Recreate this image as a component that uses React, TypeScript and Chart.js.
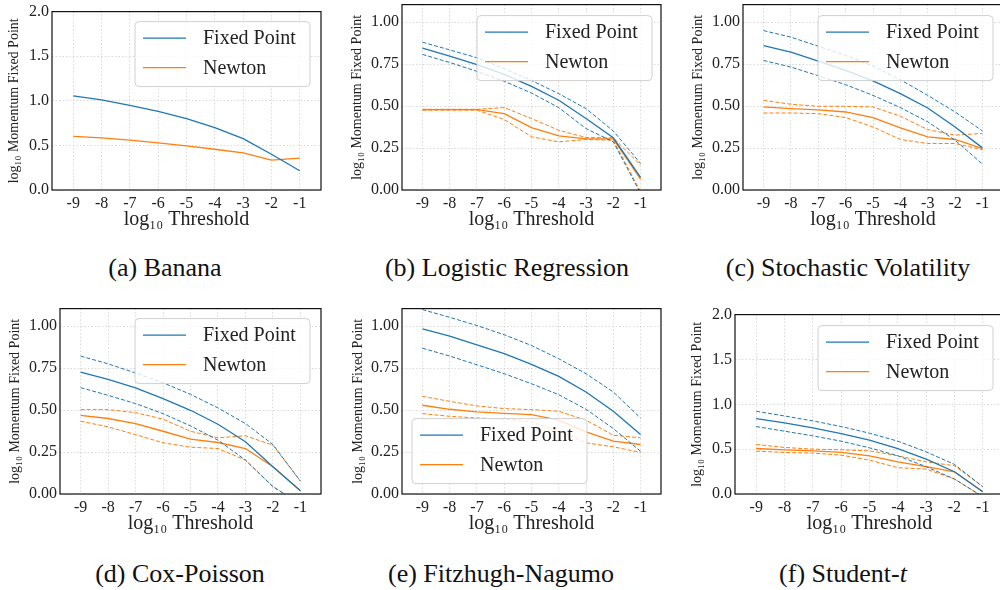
import React, { useEffect, useRef } from "react";
import { Chart, registerables } from "chart.js";

Chart.register(...registerables);

// ---------- shared axis data ----------
const thresholds = [-9, -8, -7, -6, -5, -4, -3, -2, -1];
const yTicksHalf = [0, 0.5, 1, 1.5, 2];
const yTickLabelsHalf = ["0.0", "0.5", "1.0", "1.5", "2.0"];
const yTicksQuarter = [0, 0.25, 0.5, 0.75, 1];
const yTickLabelsQuarter = ["0.00", "0.25", "0.50", "0.75", "1.00"];
const seriesNames = ["Fixed Point", "Newton"];

// ---------- (a) Banana ----------
const bananaFixedMean = [1.056, 1.011, 0.948, 0.881, 0.8, 0.699, 0.576, 0.401, 0.216];
const bananaNewtonMean = [0.602, 0.584, 0.558, 0.528, 0.494, 0.457, 0.416, 0.335, 0.357];

// ---------- (b) Logistic Regression ----------
const logisticFixedMean = [0.846, 0.798, 0.747, 0.689, 0.618, 0.535, 0.426, 0.311, 0.075];
const logisticFixedUpper = [0.881, 0.835, 0.788, 0.723, 0.653, 0.574, 0.485, 0.352, 0.158];
const logisticFixedLower = [0.808, 0.76, 0.707, 0.648, 0.578, 0.491, 0.366, 0.287, -0.02];
const logisticNewtonMean = [0.479, 0.479, 0.479, 0.455, 0.372, 0.323, 0.305, 0.305, 0.065];
const logisticNewtonUpper = [0.481, 0.481, 0.481, 0.491, 0.426, 0.356, 0.313, 0.311, 0.149];
const logisticNewtonLower = [0.476, 0.476, 0.476, 0.42, 0.317, 0.287, 0.301, 0.297, -0.01];

// ---------- (c) Stochastic Volatility ----------
const stochFixedMean = [0.861, 0.822, 0.768, 0.713, 0.65, 0.574, 0.489, 0.376, 0.251];
const stochFixedUpper = [0.95, 0.911, 0.857, 0.802, 0.739, 0.657, 0.564, 0.465, 0.352];
const stochFixedLower = [0.772, 0.733, 0.681, 0.628, 0.564, 0.491, 0.406, 0.297, 0.154];
const stochNewtonMean = [0.495, 0.485, 0.477, 0.465, 0.432, 0.37, 0.317, 0.301, 0.246];
const stochNewtonUpper = [0.535, 0.511, 0.499, 0.499, 0.495, 0.44, 0.36, 0.327, 0.337];
const stochNewtonLower = [0.459, 0.459, 0.455, 0.432, 0.376, 0.301, 0.277, 0.277, 0.24];

// ---------- (d) Cox-Poisson ----------
const coxFixedMean = [0.727, 0.683, 0.632, 0.568, 0.499, 0.416, 0.311, 0.162, 0.02];
const coxFixedUpper = [0.822, 0.776, 0.721, 0.663, 0.594, 0.513, 0.42, 0.295, 0.077];
const coxFixedLower = [0.634, 0.588, 0.539, 0.479, 0.406, 0.321, 0.202, 0.044, -0.06];
const coxNewtonMean = [0.469, 0.45, 0.42, 0.374, 0.327, 0.307, 0.271, 0.162, 0.02];
const coxNewtonUpper = [0.503, 0.503, 0.485, 0.446, 0.374, 0.335, 0.347, 0.291, 0.077];
const coxNewtonLower = [0.434, 0.4, 0.354, 0.305, 0.279, 0.271, 0.202, 0.044, -0.06];

// ---------- (e) Fitzhugh-Nagumo ----------
const fitzFixedMean = [0.984, 0.941, 0.889, 0.836, 0.772, 0.701, 0.608, 0.493, 0.354];
const fitzFixedUpper = [1.099, 1.053, 1.004, 0.949, 0.885, 0.806, 0.717, 0.608, 0.453];
const fitzFixedLower = [0.869, 0.822, 0.77, 0.717, 0.657, 0.592, 0.505, 0.39, 0.255];
const fitzNewtonMean = [0.529, 0.505, 0.489, 0.481, 0.473, 0.44, 0.37, 0.315, 0.295];
const fitzNewtonUpper = [0.582, 0.552, 0.525, 0.509, 0.503, 0.493, 0.44, 0.35, 0.335];
const fitzNewtonLower = [0.479, 0.463, 0.453, 0.446, 0.43, 0.374, 0.305, 0.281, 0.248];

// ---------- (f) Student-t ----------
const studentFixedMean = [0.841, 0.793, 0.737, 0.674, 0.6, 0.507, 0.389, 0.248, 0.026];
const studentFixedUpper = [0.922, 0.87, 0.815, 0.752, 0.678, 0.589, 0.47, 0.33, 0.081];
const studentFixedLower = [0.752, 0.7, 0.648, 0.589, 0.515, 0.426, 0.304, 0.167, -0.03];
const studentNewtonMean = [0.507, 0.493, 0.481, 0.463, 0.426, 0.359, 0.304, 0.248, 0.026];
const studentNewtonUpper = [0.552, 0.519, 0.5, 0.493, 0.481, 0.426, 0.359, 0.315, 0.081];
const studentNewtonLower = [0.478, 0.463, 0.456, 0.433, 0.378, 0.293, 0.278, 0.167, -0.03];

// ---------- styles ----------
const BLUE = "#1f77b4";
const ORANGE = "#ff7f0e";
const SERIF = "'Liberation Serif', 'DejaVu Serif', serif";
const TEXT = "#222222";
const GRID = "#cfcfcf";
const PAD_L = 60;
const PAD_T = 12;
const PAD_R = 12;
const PAD_B = 45;

type Band = { mean: number[]; upper?: number[]; lower?: number[] };
type Panel = {
  key: string;
  caption: React.ReactNode;
  capX: number;
  capY: number;
  plot: { l: number; t: number; r: number; b: number };
  yMax: number;
  yTicks: number[];
  yTickLabels: string[];
  yTitleGap: number;
  legend: { dx: number; dy: number };
  fixed: Band;
  newton: Band;
};

const panels: Panel[] = [
  {
    key: "a",
    caption: <>(a) Banana</>,
    capX: 165,
    capY: 268,
    plot: { l: 52, t: 11, r: 321, b: 190 },
    yMax: 2,
    yTicks: yTicksHalf,
    yTickLabels: yTickLabelsHalf,
    yTitleGap: 37.5,
    legend: { dx: 83, dy: 10 },
    fixed: { mean: bananaFixedMean },
    newton: { mean: bananaNewtonMean },
  },
  {
    key: "b",
    caption: <>(b) Logistic Regression</>,
    capX: 507,
    capY: 268,
    plot: { l: 402, t: 4, r: 661, b: 190 },
    yMax: 1.105,
    yTicks: yTicksQuarter,
    yTickLabels: yTickLabelsQuarter,
    yTitleGap: 45,
    legend: { dx: 75, dy: 11 },
    fixed: { mean: logisticFixedMean, upper: logisticFixedUpper, lower: logisticFixedLower },
    newton: { mean: logisticNewtonMean, upper: logisticNewtonUpper, lower: logisticNewtonLower },
  },
  {
    key: "c",
    caption: <>(c) Stochastic Volatility</>,
    capX: 848,
    capY: 268,
    plot: { l: 743, t: 4, r: 1003, b: 190 },
    yMax: 1.105,
    yTicks: yTicksQuarter,
    yTickLabels: yTickLabelsQuarter,
    yTitleGap: 45,
    legend: { dx: 75, dy: 11 },
    fixed: { mean: stochFixedMean, upper: stochFixedUpper, lower: stochFixedLower },
    newton: { mean: stochNewtonMean, upper: stochNewtonUpper, lower: stochNewtonLower },
  },
  {
    key: "d",
    caption: <>(d) Cox-Poisson</>,
    capX: 180,
    capY: 574,
    plot: { l: 60, t: 308, r: 321, b: 494 },
    yMax: 1.105,
    yTicks: yTicksQuarter,
    yTickLabels: yTickLabelsQuarter,
    yTitleGap: 45,
    legend: { dx: 75, dy: 10 },
    fixed: { mean: coxFixedMean, upper: coxFixedUpper, lower: coxFixedLower },
    newton: { mean: coxNewtonMean, upper: coxNewtonUpper, lower: coxNewtonLower },
  },
  {
    key: "e",
    caption: <>(e) Fitzhugh-Nagumo</>,
    capX: 501,
    capY: 574,
    plot: { l: 402, t: 308, r: 661, b: 494 },
    yMax: 1.105,
    yTicks: yTicksQuarter,
    yTickLabels: yTickLabelsQuarter,
    yTitleGap: 44,
    legend: { dx: 10, dy: 110 },
    fixed: { mean: fitzFixedMean, upper: fitzFixedUpper, lower: fitzFixedLower },
    newton: { mean: fitzNewtonMean, upper: fitzNewtonUpper, lower: fitzNewtonLower },
  },
  {
    key: "f",
    caption: (
      <>
        (f) Student-<i>t</i>
      </>
    ),
    capX: 843,
    capY: 574,
    plot: { l: 735, t: 314, r: 1004, b: 494 },
    yMax: 2,
    yTicks: yTicksHalf,
    yTickLabels: yTickLabelsHalf,
    yTitleGap: 37.5,
    legend: { dx: 83, dy: 11 },
    fixed: { mean: studentFixedMean, upper: studentFixedUpper, lower: studentFixedLower },
    newton: { mean: studentNewtonMean, upper: studentNewtonUpper, lower: studentNewtonLower },
  },
];

const frameLegendPlugin = {
  id: "frameLegend",
  afterDatasetsDraw(chart: any, _args: any, opts: any) {
    const { ctx, chartArea: a } = chart;
    ctx.save();
    ctx.strokeStyle = "#111111";
    ctx.lineWidth = 1.2;
    ctx.setLineDash([]);
    ctx.strokeRect(a.left, a.top, a.right - a.left, a.bottom - a.top);

    const L = a.left + opts.dx;
    const T = a.top + opts.dy;
    const W = 175;
    const H = 65;
    const r = 4;
    ctx.beginPath();
    ctx.moveTo(L + r, T);
    ctx.lineTo(L + W - r, T);
    ctx.quadraticCurveTo(L + W, T, L + W, T + r);
    ctx.lineTo(L + W, T + H - r);
    ctx.quadraticCurveTo(L + W, T + H, L + W - r, T + H);
    ctx.lineTo(L + r, T + H);
    ctx.quadraticCurveTo(L, T + H, L, T + H - r);
    ctx.lineTo(L, T + r);
    ctx.quadraticCurveTo(L, T, L + r, T);
    ctx.closePath();
    ctx.fillStyle = "rgba(255,255,255,0.8)";
    ctx.fill();
    ctx.strokeStyle = "#d0d0d0";
    ctx.lineWidth = 1;
    ctx.stroke();

    const colors = [BLUE, ORANGE];
    seriesNames.forEach((name, i) => {
      const y = T + 16.5 + i * 29.5;
      ctx.beginPath();
      ctx.strokeStyle = colors[i];
      ctx.lineWidth = 1.3;
      ctx.moveTo(L + 8, y);
      ctx.lineTo(L + 51, y);
      ctx.stroke();
      ctx.fillStyle = TEXT;
      ctx.font = `20px ${SERIF}`;
      ctx.textAlign = "left";
      ctx.textBaseline = "middle";
      ctx.fillText(name, L + 68, y + 1);
    });
    ctx.restore();
  },
};

function bandDatasets(name: string, band: Band, color: string) {
  const toPts = (arr: number[]) => thresholds.map((x, i) => ({ x, y: arr[i] }));
  const out: any[] = [
    {
      label: name,
      data: toPts(band.mean),
      borderColor: color,
      borderWidth: 1.3,
      pointRadius: 0,
      tension: 0,
      fill: false,
    },
  ];
  [band.upper, band.lower].forEach((arr, k) => {
    if (!arr) return;
    out.push({
      label: `${name} ${k === 0 ? "upper" : "lower"}`,
      data: toPts(arr),
      borderColor: color,
      borderWidth: 1,
      borderDash: [4, 2],
      pointRadius: 0,
      tension: 0,
      fill: false,
    });
  });
  return out;
}

function PanelChart({ p }: { p: Panel }) {
  const ref = useRef<HTMLCanvasElement | null>(null);
  const w = p.plot.r - p.plot.l + PAD_L + PAD_R;
  const h = p.plot.b - p.plot.t + PAD_T + PAD_B;

  useEffect(() => {
    if (!ref.current) return;
    const chart = new Chart(ref.current, {
      type: "line",
      data: {
        datasets: [
          ...bandDatasets(seriesNames[0], p.fixed, BLUE),
          ...bandDatasets(seriesNames[1], p.newton, ORANGE),
        ],
      },
      options: {
        responsive: false,
        animation: false,
        devicePixelRatio: 1,
        layout: { padding: { top: PAD_T, right: PAD_R, left: 0, bottom: 0 } },
        plugins: {
          legend: { display: false },
          tooltip: { enabled: false },
          frameLegend: p.legend,
        } as any,
        scales: {
          x: {
            type: "linear",
            min: -9.75,
            max: -0.25,
            afterBuildTicks: (s: any) => {
              s.ticks = thresholds.map((v) => ({ value: v }));
            },
            afterFit: (s: any) => {
              s.height = PAD_B;
            },
            ticks: {
              autoSkip: false,
              maxRotation: 0,
              padding: 4,
              color: TEXT,
              font: { family: SERIF, size: 16 },
              callback: (v: any) => String(v),
            },
            grid: { color: GRID, lineWidth: 0.8, drawTicks: false },
            border: { display: false, dash: [1.5, 2] },
            title: {
              display: true,
              text: "log₁₀ Threshold",
              color: TEXT,
              font: { family: SERIF, size: 20 },
              padding: { top: 0, bottom: 3 },
            },
          },
          y: {
            type: "linear",
            min: 0,
            max: p.yMax,
            afterBuildTicks: (s: any) => {
              s.ticks = p.yTicks.map((v) => ({ value: v }));
            },
            afterFit: (s: any) => {
              s.width = PAD_L;
            },
            ticks: {
              autoSkip: false,
              padding: 3,
              color: TEXT,
              font: { family: SERIF, size: 16 },
              callback: (v: any) => {
                const i = p.yTicks.indexOf(Number(v));
                return i >= 0 ? p.yTickLabels[i] : "";
              },
            },
            grid: { color: GRID, lineWidth: 0.8, drawTicks: false },
            border: { display: false, dash: [1.5, 2] },
            title: {
              display: true,
              text: "log₁₀ Momentum Fixed Point",
              color: TEXT,
              font: { family: SERIF, size: 14 },
              padding: { top: PAD_L - p.yTitleGap - 8.4, bottom: 0 },
            },
          },
        },
      },
      plugins: [frameLegendPlugin],
    } as any);
    return () => chart.destroy();
  }, []);

  return (
    <div
      style={{
        position: "absolute",
        left: p.plot.l - PAD_L,
        top: p.plot.t - PAD_T,
        width: w,
        height: h,
      }}
    >
      <canvas ref={ref} width={w} height={h} style={{ width: w, height: h, display: "block" }} />
    </div>
  );
}

export default function App() {
  return (
    <div
      style={{
        position: "absolute",
        left: 0,
        top: 0,
        width: 1000,
        height: 590,
        overflow: "hidden",
        background: "#ffffff",
      }}
    >
      {panels.map((p) => (
        <PanelChart key={p.key} p={p} />
      ))}
      {panels.map((p) => (
        <div
          key={`cap-${p.key}`}
          style={{
            position: "absolute",
            left: p.capX,
            top: p.capY - 15,
            transform: "translateX(-50%)",
            whiteSpace: "nowrap",
            fontFamily: SERIF,
            fontSize: 26,
            lineHeight: "30px",
            color: "#111111",
          }}
        >
          {p.caption}
        </div>
      ))}
    </div>
  );
}
